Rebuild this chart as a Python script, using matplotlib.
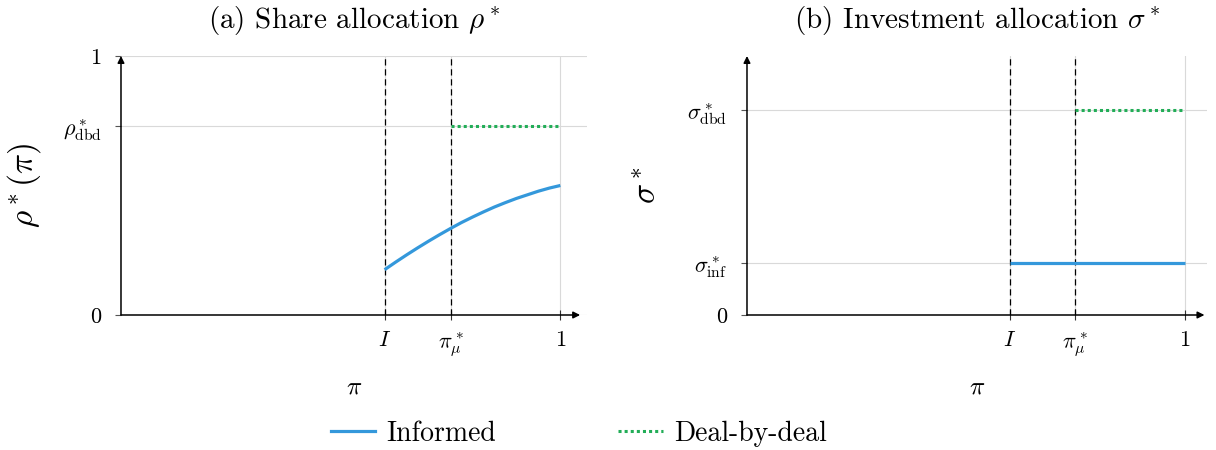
import matplotlib

matplotlib.use("Agg")
import matplotlib.pyplot as plt
from matplotlib.lines import Line2D

plt.rcParams["font.family"] = ["cmr10", "DejaVu Serif"]
plt.rcParams["mathtext.fontset"] = "cm"
plt.rcParams["axes.unicode_minus"] = False
plt.rcParams["axes.formatter.use_mathtext"] = True

# values
pi_I = 0.6
pi_mu = 0.75
rho_dbd = 0.73
sigma_dbd = 0.79
sigma_inf = 0.20

pi_informed = [0.600, 0.625, 0.650, 0.675, 0.700, 0.725, 0.750, 0.775, 0.800,
               0.825, 0.850, 0.875, 0.900, 0.925, 0.950, 0.975, 1.000]
rho_informed = [0.175, 0.204, 0.232, 0.259, 0.285, 0.310, 0.334, 0.357, 0.378,
                0.398, 0.417, 0.434, 0.450, 0.464, 0.478, 0.490, 0.500]
pi_dbd = [0.75, 1.00]
pi_inf_flat = [0.60, 1.00]

xtick_pos = [pi_I, pi_mu, 1.0]
xtick_lab = [r"$I$", r"$\pi^*_\mu$", "1"]

blue = "#3498db"
green = "#22ad57"


def style_axes(ax, xmax):
    for s in ax.spines.values():
        s.set_visible(False)
    ax.set_xlim(0, xmax)
    ax.set_ylim(0, 1.0)
    ax.grid(True, color="#d9d9d9", linewidth=0.8, zorder=0)
    ax.set_xticks(xtick_pos)
    ax.set_xticklabels(xtick_lab, fontsize=16)
    ax.tick_params(axis="x", direction="inout", length=7, width=0.8, pad=8, color="#333333")
    ax.tick_params(axis="y", direction="out", length=4, width=0.8, pad=10, color="#555555", labelsize=16)
    ax.annotate("", xy=(1.045, 0), xytext=(0, 0), xycoords="data",
                arrowprops=dict(arrowstyle="-|>", color="black", lw=1.1, mutation_scale=10,
                                shrinkA=0, shrinkB=0), annotation_clip=False, zorder=5)
    ax.annotate("", xy=(0, 1.0), xytext=(0, 0), xycoords="data",
                arrowprops=dict(arrowstyle="-|>", color="black", lw=1.1, mutation_scale=10,
                                shrinkA=0, shrinkB=0), annotation_clip=False, zorder=5)
    for xv in (pi_I, pi_mu):
        ax.plot([xv, xv], [0, 1.0], color="black", linestyle=(0, (5, 3)), linewidth=0.9, zorder=3)
    ax.set_xlabel(r"$\pi$", fontsize=18, labelpad=12)


fig = plt.figure(figsize=(12.16, 4.5), dpi=100)
ax1 = fig.add_axes([0.0995, 0.30, 0.383, 0.5756])
ax2 = fig.add_axes([0.6143, 0.30, 0.378, 0.5756])

# panel (a)
style_axes(ax1, 1.06)
ax1.plot(pi_informed, rho_informed, color=blue, linewidth=2.3, zorder=4, solid_capstyle="butt")
ax1.plot(pi_dbd, [rho_dbd, rho_dbd], color=green, linewidth=2.2, linestyle=(0, (1, 1)), zorder=4)
ax1.set_yticks([0, rho_dbd, 1])
ax1.set_yticklabels(["0", r"$\rho^*_{\rm dbd}$", "1"])
ax1.set_ylabel(r"$\rho^*(\pi)$", fontsize=24, labelpad=14)
ax1.set_title(r"(a) Share allocation $\rho^*$", fontsize=21, pad=20)

# panel (b)
style_axes(ax2, 1.05)
ax2.plot(pi_inf_flat, [sigma_inf, sigma_inf], color=blue, linewidth=2.3, zorder=4, solid_capstyle="butt")
ax2.plot(pi_dbd, [sigma_dbd, sigma_dbd], color=green, linewidth=2.2, linestyle=(0, (1, 1)), zorder=4)
ax2.set_yticks([0, sigma_inf, sigma_dbd])
ax2.set_yticklabels(["0", r"$\sigma^*_{\rm inf}$", r"$\sigma^*_{\rm dbd}$"])
ax2.set_ylabel(r"$\sigma^*$", fontsize=24, labelpad=18)
ax2.set_title(r"(b) Investment allocation $\sigma^*$", fontsize=21, pad=20)

handles = [
    Line2D([], [], color=blue, linewidth=2.3),
    Line2D([], [], color=green, linewidth=2.2, linestyle=(0, (1, 1))),
]
fig.legend(handles, ["Informed", "Deal-by-deal"], loc="center", bbox_to_anchor=(0.476, 0.037),
           ncol=2, frameon=False, fontsize=20, handlelength=1.6, handletextpad=0.4,
           columnspacing=4.4)

fig.savefig("out.png", dpi=100)
